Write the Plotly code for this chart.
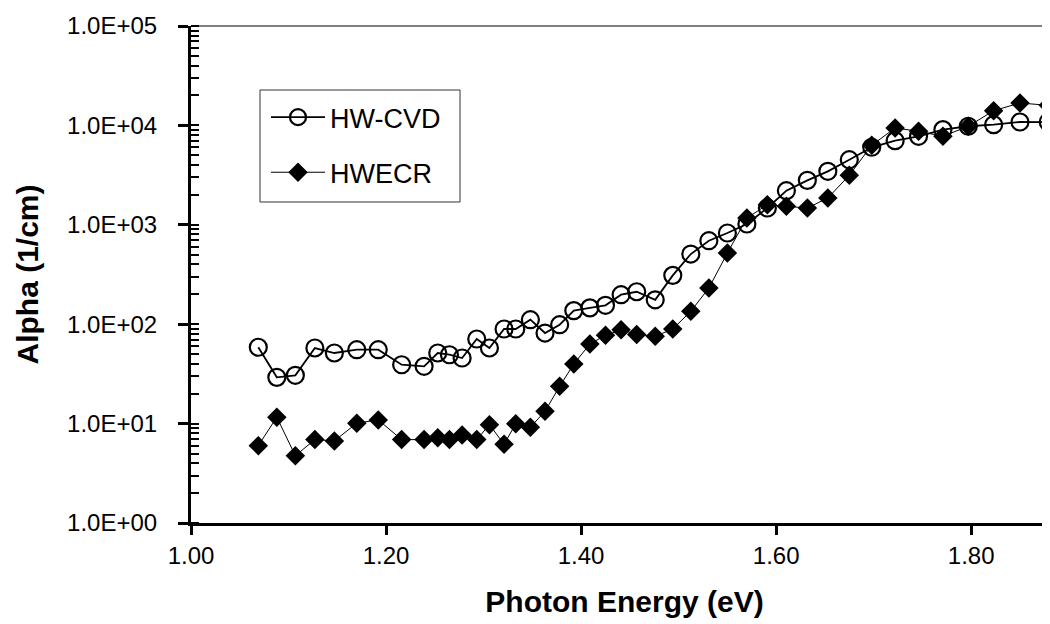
import plotly.graph_objects as go

energy = [1.069, 1.088, 1.107, 1.127, 1.147, 1.170, 1.192, 1.216, 1.239, 1.253,
          1.265, 1.278, 1.293, 1.306, 1.321, 1.333, 1.348, 1.363, 1.378, 1.3925,
          1.409, 1.425, 1.441, 1.457, 1.476, 1.494, 1.5125, 1.531, 1.550, 1.570,
          1.591, 1.6105, 1.632, 1.653, 1.675, 1.698, 1.722, 1.746, 1.771, 1.797,
          1.823, 1.850, 1.879]

hw_cvd = [58.6, 29.2, 30.6, 57.6, 51.3, 55.4, 55.4, 39.1, 37.7, 51.3,
          49.3, 45.7, 71, 57.6, 89.5, 89.5, 111, 81.5, 98.9, 137,
          146, 155, 198, 212, 176, 310, 508, 692, 827, 1019,
          1475, 2205, 2800, 3452, 4518, 6025, 7020, 7770, 9060, 9800,
          10170, 10820, 10800]

hwecr = [6.0, 11.6, 4.75, 6.9, 6.7, 10.1, 10.9, 6.9, 6.9, 7.2,
         6.9, 7.7, 6.9, 9.75, 6.2, 9.97, 9.2, 13.3, 23.7, 39.8,
         63.2, 77.3, 88, 79, 75.5, 89.5, 135, 231, 520, 1170,
         1592, 1535, 1475, 1860, 3150, 6310, 9420, 8730, 7770, 9800,
         14060, 16800, 15920]

y_tickvals = [1, 10, 100, 1000, 10000, 100000]
y_ticktext = ["1.0E+00", "1.0E+01", "1.0E+02", "1.0E+03", "1.0E+04", "1.0E+05"]
x_tickvals = [1.0, 1.2, 1.4, 1.6, 1.8]
x_ticktext = ["1.00", "1.20", "1.40", "1.60", "1.80"]

font_family = "Liberation Sans, Arial, sans-serif"

fig = go.Figure()
fig.add_trace(go.Scatter(
    x=energy, y=hw_cvd, name="HW-CVD", mode="lines+markers",
    line=dict(color="black", width=1.8),
    marker=dict(symbol="circle-open", size=17, color="black", line=dict(width=2.2)),
    legendgroup="a",
))
fig.add_trace(go.Scatter(
    x=energy, y=hwecr, name="HWECR", mode="lines+markers",
    line=dict(color="black", width=1),
    marker=dict(symbol="diamond", size=15, color="black"),
    legendgroup="b",
))

# top frame line
fig.add_shape(type="line", xref="paper", yref="paper", x0=0, x1=1, y0=1, y1=1,
              line=dict(color="black", width=1))
# legend frame
fig.add_shape(type="rect", xref="paper", yref="paper",
              x0=0.0796, x1=0.3103, y0=0.6459, y1=0.8712,
              line=dict(color="#333333", width=1), fillcolor="rgba(0,0,0,0)")

fig.update_layout(
    width=1050, height=624,
    margin=dict(l=183, r=0, t=18, b=109),
    paper_bgcolor="white", plot_bgcolor="white",
    font=dict(family=font_family, size=24, color="black"),
    showlegend=True,
    legend=dict(
        x=0.0865, y=0.865, xanchor="left", yanchor="top",
        borderwidth=0, bgcolor="rgba(0,0,0,0)",
        font=dict(size=27), tracegroupgap=17, itemwidth=54,
        traceorder="grouped",
    ),
    xaxis=dict(
        range=[1.0, 1.889], tickvals=x_tickvals, ticktext=x_ticktext,
        showgrid=False, zeroline=False,
        showline=True, linecolor="black", linewidth=3,
        ticks="outside", ticklen=9, tickwidth=3, tickcolor="black",
        ticklabelstandoff=0,
        title=dict(text="<b>Photon Energy (eV)</b>", font=dict(size=30), standoff=24),
    ),
    yaxis=dict(
        type="log", range=[0, 5], tickvals=y_tickvals, ticktext=y_ticktext,
        showgrid=False, zeroline=False,
        showline=True, linecolor="black", linewidth=3,
        ticks="outside", ticklen=10, tickwidth=3, tickcolor="black",
        ticklabelstandoff=16,
        minor=dict(ticks="inside", ticklen=8, tickwidth=2, tickcolor="black", dtick="D1", showgrid=False),
        title=dict(text="<b>Alpha (1/cm)</b>", font=dict(size=30), standoff=20),
    ),
)

fig.write_html("out.html")
